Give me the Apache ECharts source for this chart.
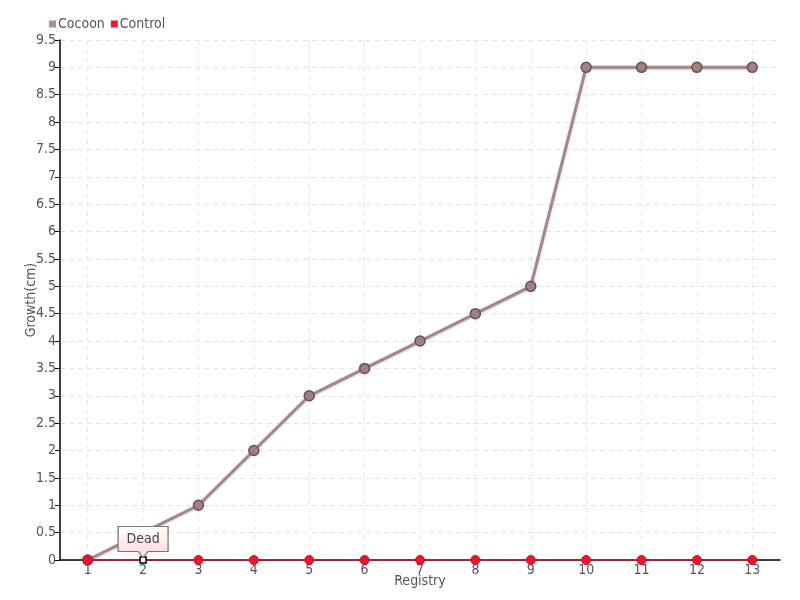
<!DOCTYPE html>
<html><head><meta charset="utf-8">
<script src="https://cdn.jsdelivr.net/npm/echarts@6/dist/echarts.min.js"></script>
<style>html,body{margin:0;padding:0;background:#fff}#c{width:800px;height:600px}</style>
</head><body><div id="c"></div>
<script>
var categories = ['1','2','3','4','5','6','7','8','9','10','11','12','13'];
var cocoon = [0, 0.5, 1, 2, 3, 3.5, 4, 4.5, 5, 9, 9, 9, 9];
var control = [0, 0, 0, 0, 0, 0, 0, 0, 0, 0, 0, 0, 0];
var deadIndex = 1;
var deadText = 'Dead';

var FONT = "'DejaVu Sans Condensed','DejaVu Sans',sans-serif";
var chart = echarts.init(document.getElementById('c'));
var controlData = control.map(function (v, i) {
  if (i === deadIndex) {
    return { value: v, symbol: 'rect', symbolSize: 6, itemStyle: { color: '#fff', borderColor: '#000', borderWidth: 1.5 } };
  }
  return v;
});
chart.setOption({
  animation: false,
  textStyle: { fontFamily: FONT },
  legend: {
    left: 44, top: 12, itemWidth: 7, itemHeight: 7, itemGap: 6,
    icon: 'rect',
    itemStyle: { borderWidth: 0 },
    textStyle: { fontSize: 14, color: '#555', fontFamily: FONT, padding: [0, 0, 0, -3] },
    data: [
      { name: 'Cocoon', itemStyle: { color: '#a88f94', borderWidth: 0 } },
      { name: 'Control', itemStyle: { color: '#ec1530', borderWidth: 0 } }
    ]
  },
  grid: { left: 60, right: 20, top: 40, bottom: 40 },
  xAxis: {
    type: 'category', data: categories, boundaryGap: true,
    name: 'Registry', nameLocation: 'middle', nameGap: 14, nameMoveOverlap: false,
    nameTextStyle: { fontSize: 14, color: '#555', fontFamily: FONT },
    axisLine: { lineStyle: { color: '#000', width: 1.5 } },
    axisTick: { show: false, alignWithLabel: true },
    axisLabel: { fontSize: 14, color: '#555', margin: 3, fontFamily: FONT },
    splitLine: { show: true, alignWithLabel: true, lineStyle: { color: '#e8e8e8', type: [5, 4], width: 1 } }
  },
  yAxis: {
    type: 'value', min: 0, max: 9.5, interval: 0.5,
    name: 'Growth(cm)', nameLocation: 'middle', nameGap: 22, nameMoveOverlap: false,
    nameTextStyle: { fontSize: 14, color: '#555', fontFamily: FONT },
    axisLine: { show: true, lineStyle: { color: '#000', width: 1.5 } },
    axisTick: { show: true, length: 5, lineStyle: { color: '#000' } },
    axisLabel: { fontSize: 14, color: '#555', margin: 4, fontFamily: FONT },
    splitLine: { show: true, lineStyle: { color: '#e4e4e4', type: [5, 4], width: 1 } }
  },
  series: [
    {
      name: 'Cocoon', type: 'line', data: cocoon,
      symbol: 'circle', symbolSize: 10,
      lineStyle: { color: '#a4868b', width: 3, shadowColor: 'rgba(120,90,95,0.35)', shadowBlur: 2, shadowOffsetY: 1 },
      itemStyle: { color: '#9e8085', borderColor: '#6a5056', borderWidth: 1.5 }
    },
    {
      name: 'Control', type: 'line', data: controlData,
      symbol: 'circle', symbolSize: 9,
      lineStyle: { color: '#e0102a', width: 1.5 },
      itemStyle: { color: '#ec1530', borderColor: '#c8102a', borderWidth: 1 },
      markPoint: {
        data: [{ coord: [deadIndex, control[deadIndex]] }],
        symbol: 'path://M0,0 H50 V25 H30 L25,31 L20,25 H0 Z',
        symbolSize: [50, 31],
        symbolOffset: [0, -18],
        silent: true,
        itemStyle: {
          color: { type: 'linear', x: 0, y: 0, x2: 0, y2: 1, colorStops: [{ offset: 0, color: '#ffffff' }, { offset: 1, color: '#ffd6d6' }] },
          borderColor: '#777', borderWidth: 1
        },
        label: { show: true, formatter: deadText, position: 'inside', offset: [0, -3], color: '#444', fontSize: 14, fontFamily: FONT }
      }
    }
  ]
});
</script></body></html>
